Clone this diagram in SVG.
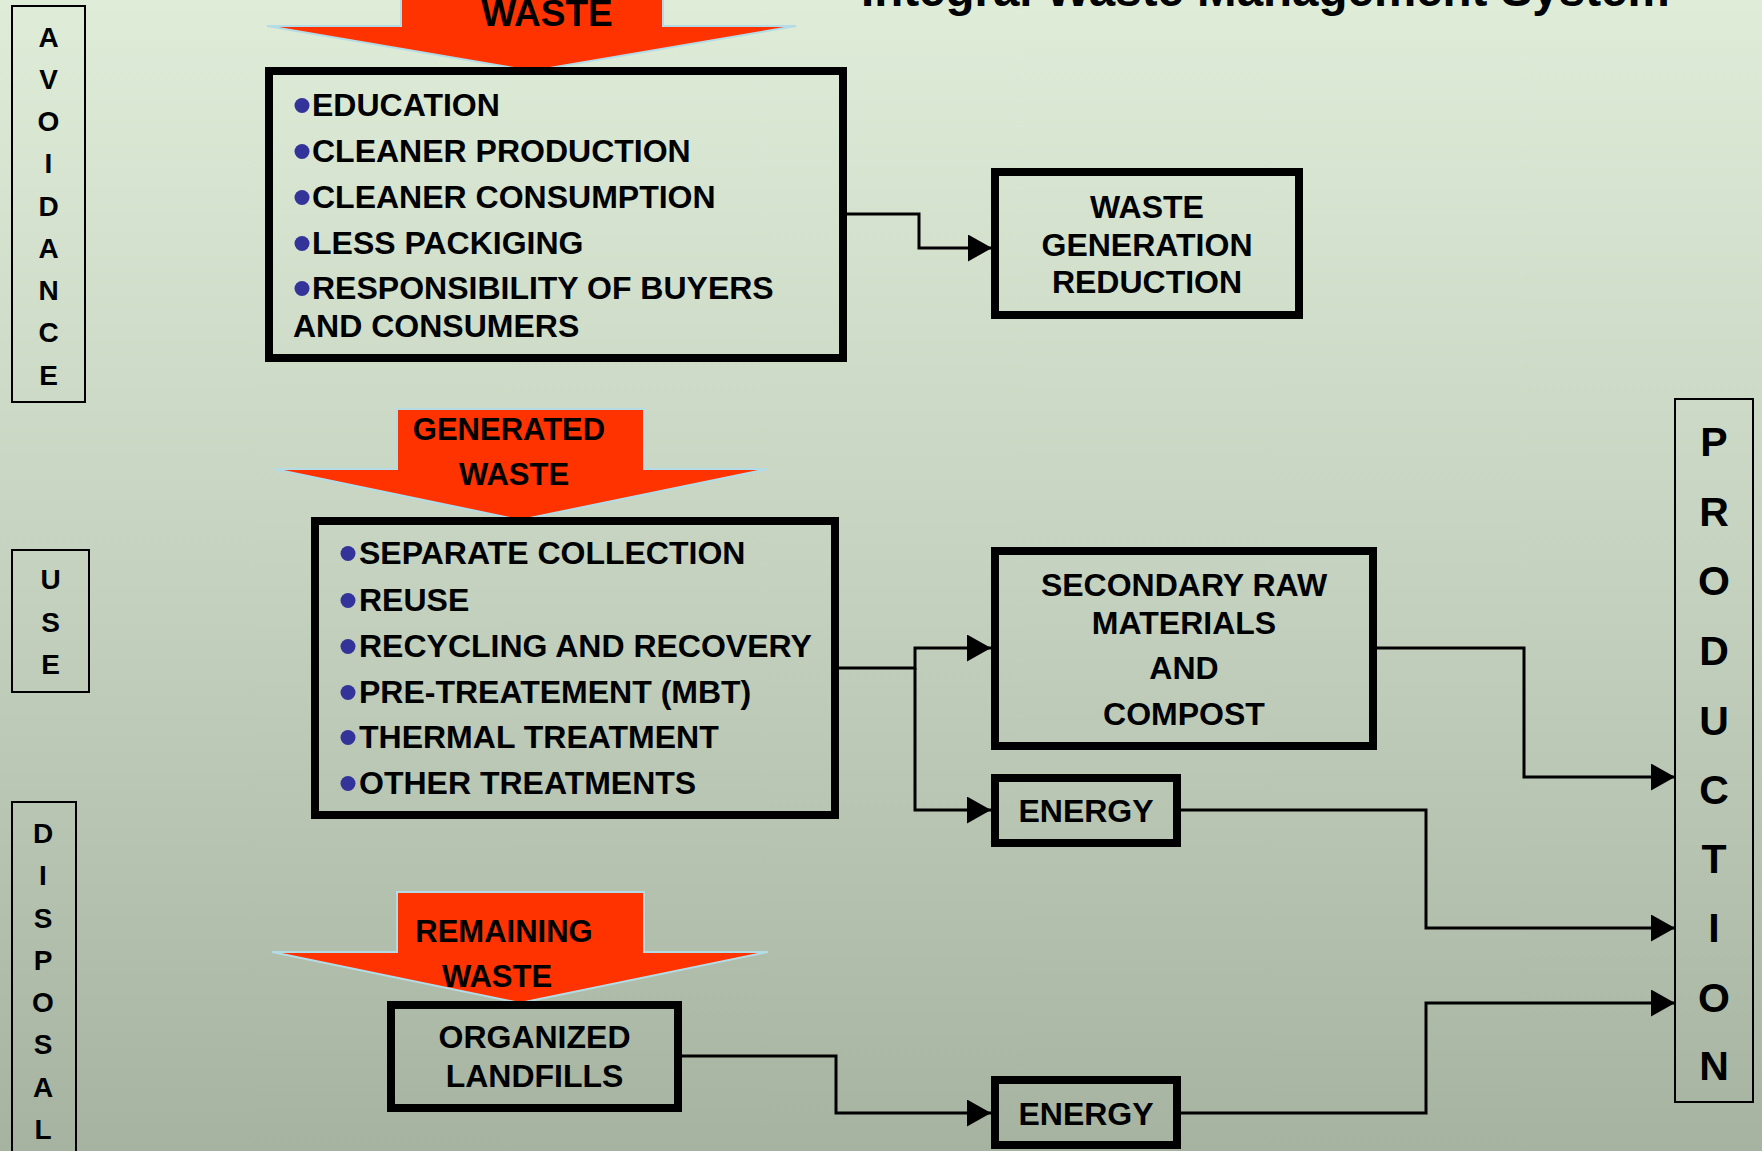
<svg xmlns="http://www.w3.org/2000/svg" width="1762" height="1151" viewBox="0 0 1762 1151">
<defs>
<linearGradient id="bg" x1="0" y1="0" x2="0" y2="1">
<stop offset="0" stop-color="#DEECD8"/>
<stop offset="0.5" stop-color="#C4D2BF"/>
<stop offset="1" stop-color="#A6B3A0"/>
</linearGradient>
<marker id="ah" markerUnits="userSpaceOnUse" markerWidth="26" markerHeight="28" refX="24" refY="13.5" orient="auto">
<path d="M0,0 L24,13.5 L0,27 z" fill="#000"/>
</marker>
<style>
text{font-family:"Liberation Sans",Arial,sans-serif;font-weight:bold;fill:#000}
.box{fill:none;stroke:#000;stroke-width:8}
.side{fill:none;stroke:#000;stroke-width:2}
.big{fill:#FF3300;stroke:#B4DCE6;stroke-width:2}
.conn{fill:none;stroke:#000;stroke-width:3}
.item{font-size:32px}
.lbl{font-size:32px;text-anchor:middle}
.alb{font-size:31px;text-anchor:middle}
.sl{font-size:28px;text-anchor:middle}
.pl{font-size:41px;text-anchor:middle}
.bul{fill:#333399}
</style>
</defs>
<rect x="0" y="0" width="1762" height="1151" fill="url(#bg)"/>
<text x="861" y="6" style="font-size:47.5px">Integral Waste Management System</text>

<g id="avoidance">
<rect class="side" x="12" y="6" width="73" height="396"/>
<text class="sl" x="48.5" y="47">A</text>
<text class="sl" x="48.5" y="89">V</text>
<text class="sl" x="48.5" y="131">O</text>
<text class="sl" x="48.5" y="173">I</text>
<text class="sl" x="48.5" y="216">D</text>
<text class="sl" x="48.5" y="258">A</text>
<text class="sl" x="48.5" y="300">N</text>
<text class="sl" x="48.5" y="342">C</text>
<text class="sl" x="48.5" y="385">E</text>
</g>
<g id="use">
<rect class="side" x="12" y="550" width="77" height="142"/>
<text class="sl" x="50.5" y="589">U</text>
<text class="sl" x="50.5" y="632">S</text>
<text class="sl" x="50.5" y="674">E</text>
</g>
<g id="disposal">
<rect class="side" x="12" y="802" width="64" height="360"/>
<text class="sl" x="43" y="843">D</text>
<text class="sl" x="43" y="885">I</text>
<text class="sl" x="43" y="928">S</text>
<text class="sl" x="43" y="970">P</text>
<text class="sl" x="43" y="1012">O</text>
<text class="sl" x="43" y="1054">S</text>
<text class="sl" x="43" y="1097">A</text>
<text class="sl" x="43" y="1139">L</text>
</g>
<g id="production">
<rect class="side" x="1675" y="399" width="78" height="703"/>
<text class="pl" x="1714" y="456">P</text>
<text class="pl" x="1714" y="526">R</text>
<text class="pl" x="1714" y="595">O</text>
<text class="pl" x="1714" y="665">D</text>
<text class="pl" x="1714" y="735">U</text>
<text class="pl" x="1714" y="804">C</text>
<text class="pl" x="1714" y="873">T</text>
<text class="pl" x="1714" y="942">I</text>
<text class="pl" x="1714" y="1012">O</text>
<text class="pl" x="1714" y="1080">N</text>
</g>

<g id="arrow-waste">
<polygon class="big" points="401,-5 663,-5 663,26 796,26 532,71 267,26 401,26"/>
<text x="547" y="26" style="font-size:37px;text-anchor:middle">WASTE</text>
</g>
<g id="arrow-generated">
<polygon class="big" points="397,409 644,409 644,469 768,469 520,520 274,469 397,469"/>
<text class="alb" x="509" y="440">GENERATED</text>
<text class="alb" x="514" y="485">WASTE</text>
</g>

<g id="avoidance-measures">
<rect class="box" x="269" y="71" width="574" height="287"/>
<circle class="bul" cx="302" cy="105.5" r="7.5"/>
<circle class="bul" cx="302" cy="151.5" r="7.5"/>
<circle class="bul" cx="302" cy="197.5" r="7.5"/>
<circle class="bul" cx="302" cy="243.5" r="7.5"/>
<circle class="bul" cx="302" cy="288.5" r="7.5"/>
<text class="item" x="312" y="116">EDUCATION</text>
<text class="item" x="312" y="162">CLEANER PRODUCTION</text>
<text class="item" x="312" y="208">CLEANER CONSUMPTION</text>
<text class="item" x="312" y="254">LESS PACKIGING</text>
<text class="item" x="312" y="299">RESPONSIBILITY OF BUYERS</text>
<text class="item" x="293" y="337">AND CONSUMERS</text>
</g>
<g id="waste-generation-reduction">
<rect class="box" x="995" y="172" width="304" height="143"/>
<text class="lbl" x="1147" y="218">WASTE</text>
<text class="lbl" x="1147" y="256">GENERATION</text>
<text class="lbl" x="1147" y="293">REDUCTION</text>
</g>
<g id="use-measures">
<rect class="box" x="315" y="521" width="520" height="294"/>
<circle class="bul" cx="348" cy="553.5" r="7.5"/>
<circle class="bul" cx="348" cy="600.5" r="7.5"/>
<circle class="bul" cx="348" cy="646.5" r="7.5"/>
<circle class="bul" cx="348" cy="692.5" r="7.5"/>
<circle class="bul" cx="348" cy="737.5" r="7.5"/>
<circle class="bul" cx="348" cy="783.5" r="7.5"/>
<text class="item" x="359" y="564">SEPARATE COLLECTION</text>
<text class="item" x="359" y="611">REUSE</text>
<text class="item" x="359" y="657">RECYCLING AND RECOVERY</text>
<text class="item" x="359" y="703">PRE-TREATEMENT (MBT)</text>
<text class="item" x="359" y="748">THERMAL TREATMENT</text>
<text class="item" x="359" y="794">OTHER TREATMENTS</text>
</g>
<g id="secondary-raw-materials">
<rect class="box" x="995" y="551" width="378" height="195"/>
<text class="lbl" x="1184" y="596">SECONDARY RAW</text>
<text class="lbl" x="1184" y="634">MATERIALS</text>
<text class="lbl" x="1184" y="679">AND</text>
<text class="lbl" x="1184" y="725">COMPOST</text>
</g>
<g id="energy-1">
<rect class="box" x="995" y="778" width="182" height="65"/>
<text class="lbl" x="1086" y="822">ENERGY</text>
</g>
<g id="arrow-remaining">
<polygon class="big" points="397,892 644,892 644,952 768,952 520,1003 272,952 397,952"/>
<text class="alb" x="504" y="942">REMAINING</text>
<text class="alb" x="497" y="987">WASTE</text>
</g>
<g id="organized-landfills">
<rect class="box" x="391" y="1005" width="287" height="103"/>
<text class="lbl" x="534.5" y="1048">ORGANIZED</text>
<text class="lbl" x="534.5" y="1087">LANDFILLS</text>
</g>
<g id="energy-2">
<rect class="box" x="995" y="1080" width="182" height="65"/>
<text class="lbl" x="1086" y="1125">ENERGY</text>
</g>

<g id="connectors">
<path class="conn" d="M847,214 H919 V248 H992" marker-end="url(#ah)"/>
<path class="conn" d="M839,668 H915 V648 H991" marker-end="url(#ah)"/>
<path class="conn" d="M915,668 V810 H991" marker-end="url(#ah)"/>
<path class="conn" d="M1377,648 H1524 V777 H1675" marker-end="url(#ah)"/>
<path class="conn" d="M1181,810 H1426 V928 H1675" marker-end="url(#ah)"/>
<path class="conn" d="M682,1056 H836 V1113 H991" marker-end="url(#ah)"/>
<path class="conn" d="M1181,1113 H1426 V1003 H1675" marker-end="url(#ah)"/>
</g>
</svg>
